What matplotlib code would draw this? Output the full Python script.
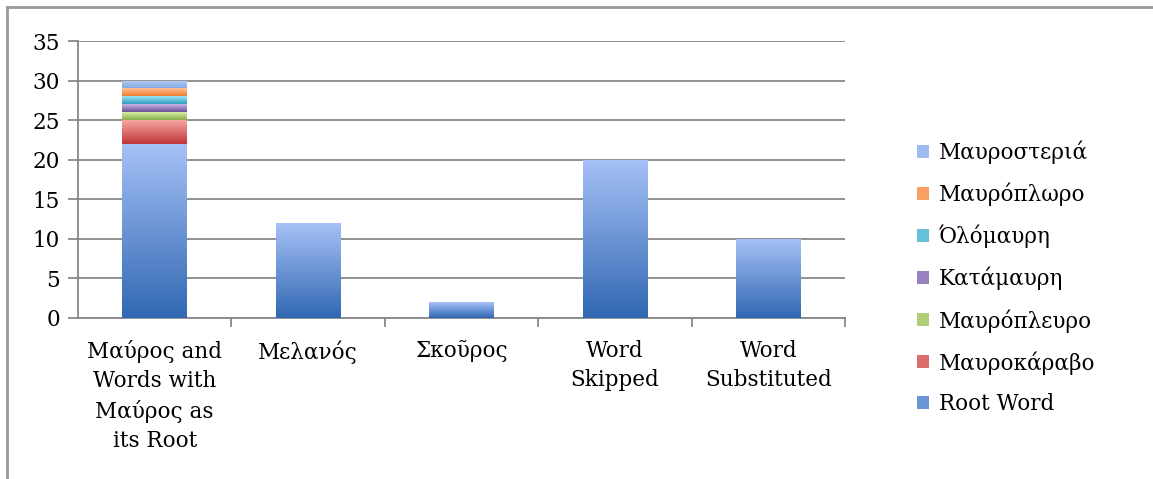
import numpy as np
import matplotlib.pyplot as plt
from matplotlib.colors import LinearSegmentedColormap
from matplotlib.patches import Patch
from matplotlib.lines import Line2D

plt.rcParams['font.family'] = ['DejaVu Serif']

categories = ['Μαύρος and\nWords with\nΜαύρος as\nits Root', 'Μελανός', 'Σκοῦρος',
              'Word\nSkipped', 'Word\nSubstituted']
series_names = ['Root Word', 'Μαυροκάραβο', 'Μαυρόπλευρο', 'Κατάμαυρη',
                'Όλόμαυρη', 'Μαυρόπλωρο', 'Μαυροστεριά']
root_word = [22, 12, 2, 20, 10]
mavrokaravo = [3, 0, 0, 0, 0]
mavropleuro = [1, 0, 0, 0, 0]
katamavri = [1, 0, 0, 0, 0]
olomavri = [1, 0, 0, 0, 0]
mavroploro = [1, 0, 0, 0, 0]
mavrosteria = [1, 0, 0, 0, 0]
series = [root_word, mavrokaravo, mavropleuro, katamavri, olomavri, mavroploro, mavrosteria]

# (top colour, bottom colour) for the gradient of each series
grads = [('#a6c1f6', '#3168b3'),
         ('#f6a6a4', '#bf3535'),
         ('#d8f0a8', '#86ac48'),
         ('#c6b6e2', '#6a4e98'),
         ('#9fe4f6', '#2e9cbd'),
         ('#ffc295', '#ef7d2c'),
         ('#b5cff7', '#86a8e2')]

fs = 15.5

fig = plt.figure(figsize=(11.53, 4.79), dpi=100)
ax = fig.add_axes([78/1153, 1-318/479, (845-78)/1153, (318-41)/479])

x = np.arange(len(categories))
bottom = np.zeros(len(categories))
for vals, (c_top, c_bot) in zip(series, grads):
    bars = ax.bar(x, vals, width=0.42, bottom=bottom, color='none', edgecolor='none', zorder=3)
    cmap = LinearSegmentedColormap.from_list('g', [c_bot, c_top])
    for b in bars:
        if b.get_height() <= 0:
            continue
        x0, y0 = b.get_x(), b.get_y()
        x1, y1 = x0 + b.get_width(), y0 + b.get_height()
        grad = np.linspace(0, 1, 128).reshape(-1, 1)
        im = ax.imshow(grad, cmap=cmap, origin='lower', extent=[x0, x1, y0, y1],
                       aspect='auto', zorder=3, interpolation='bilinear')
        im.set_clip_path(b)
    bottom += np.array(vals)

ax.set_xlim(-0.5, len(categories) - 0.5)
ax.set_ylim(0, 35)
ax.set_yticks(range(0, 36, 5))
ax.yaxis.grid(True, color='#888888', linewidth=1.3, zorder=0)
ax.set_axisbelow(True)

ax.set_xticks(x)
ax.set_xticklabels(categories, fontsize=fs, linespacing=1.42)
ax.tick_params(axis='x', length=0, pad=16)
ax.tick_params(axis='y', labelsize=fs, length=7, width=1.3, color='#888888', pad=6)
for xb in np.arange(0.5, len(categories), 1.0):
    ax.plot([xb, xb], [0, -0.03], transform=ax.get_xaxis_transform(), clip_on=False,
            color='#888888', linewidth=1.3)

for s in ['top', 'right']:
    ax.spines[s].set_visible(False)
for s in ['left', 'bottom']:
    ax.spines[s].set_color('#888888')
    ax.spines[s].set_linewidth(1.3)

mids = [LinearSegmentedColormap.from_list('m', [b_, t_])(0.5) for t_, b_ in grads]
handles = [Patch(facecolor=c, edgecolor='none') for c in mids]
leg = fig.legend(handles[::-1], series_names[::-1], loc='center left',
                 bbox_to_anchor=(898/1153, 1-278/479), frameon=False, fontsize=fs,
                 handlelength=0.55, handleheight=0.55, labelspacing=0.86, handletextpad=0.45)

# outer frame
fig.add_artist(Line2D([7/1153, 7/1153], [0, 1-7/479], color='#999999', linewidth=2))
fig.add_artist(Line2D([7/1153, 1], [1-7/479, 1-7/479], color='#999999', linewidth=2))

fig.savefig('out.png', dpi=100)
